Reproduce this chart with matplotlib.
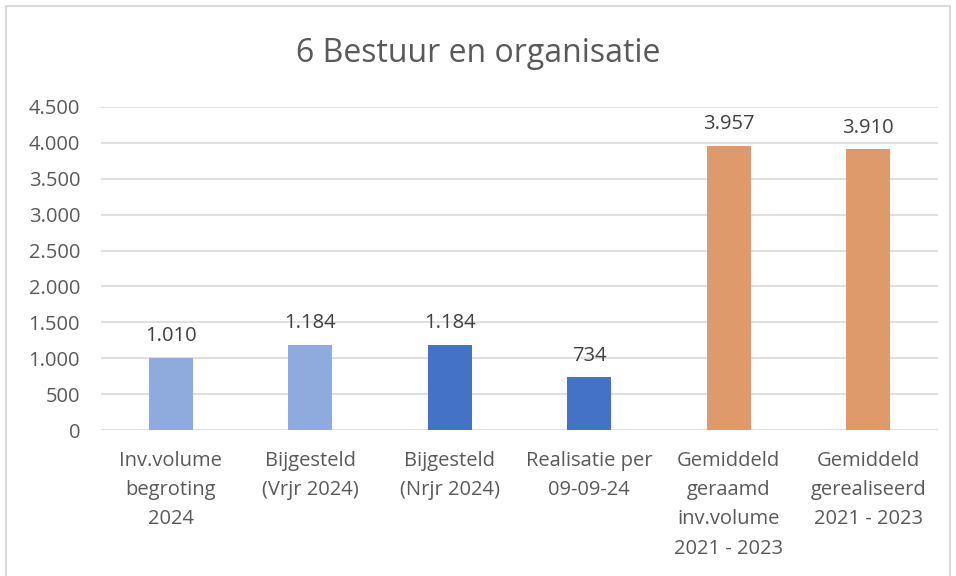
import matplotlib.pyplot as plt
from matplotlib.patches import Rectangle
from matplotlib.ticker import FuncFormatter

# data
categories = ['Inv.volume\nbegroting\n2024', 'Bijgesteld\n(Vrjr 2024)', 'Bijgesteld\n(Nrjr 2024)',
              'Realisatie per\n09-09-24', 'Gemiddeld\ngeraamd\ninv.volume\n2021 - 2023',
              'Gemiddeld\ngerealiseerd\n2021 - 2023']
values = [1010, 1184, 1184, 734, 3957, 3910]
bar_colors = ['#8FAADC', '#8FAADC', '#4472C4', '#4472C4', '#DF9A6C', '#DF9A6C']
yticks = [0, 500, 1000, 1500, 2000, 2500, 3000, 3500, 4000, 4500]

plt.rcParams['font.family'] = ['Open Sans', 'DejaVu Sans']
txt = '#595959'

fig = plt.figure(figsize=(9.56, 5.76), dpi=100)
ax = fig.add_axes([101/956, 1 - 430/576, 837/956, 323/576])

def dots(v, pos=None):
    return f'{int(v):,}'.replace(',', '.')

x = range(len(values))
ax.bar(x, values, width=0.315, color=bar_colors, zorder=3)
for i, v in zip(x, values):
    ax.annotate(dots(v), (i, v), xytext=(0, 8.5), textcoords='offset points',
                ha='center', va='bottom', fontsize=14.5, color='#404040')

ax.set_xlim(-0.5, len(values) - 0.5)
ax.set_ylim(0, 4500)
ax.set_yticks(yticks)
ax.yaxis.set_major_formatter(FuncFormatter(dots))
ax.grid(axis='y', color='#D9D9D9', lw=1.2, zorder=0)
for s in ax.spines.values():
    s.set_visible(False)
ax.set_xticks(list(x))
ax.set_xticklabels(categories, linespacing=1.62, va='top')
ax.tick_params(axis='y', length=0, labelsize=14.5, colors=txt, pad=15)
ax.tick_params(axis='x', length=0, labelsize=14.5, colors=txt, pad=15)

fig.text(0.5, 1 - 53/576, '6 Bestuur en organisatie', ha='center', va='center',
         fontsize=23, color=txt)

fig.patches.append(Rectangle((6/956, -0.1), 944/956, 1.1 - 6/576, transform=fig.transFigure,
                             fill=False, edgecolor='#D9D9D9', lw=1.5))

fig.savefig('out.png', dpi=100)
